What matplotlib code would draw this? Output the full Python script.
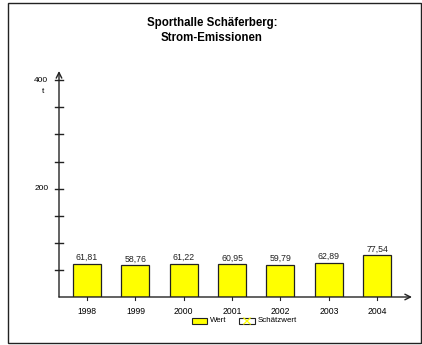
import matplotlib
matplotlib.use('Agg')
import matplotlib.pyplot as plt
from matplotlib.patches import Rectangle
import numpy as np

plt.rcParams['font.family'] = ['Liberation Sans', 'DejaVu Sans']

years = ['1998', '1999', '2000', '2001', '2002', '2003', '2004']
wert = [61.81, 58.76, 61.22, 60.95, 59.79, 62.89, 77.54]
value_labels = ['61,81', '58,76', '61,22', '60,95', '59,79', '62,89', '77,54']
y_major = [200, 400]
y_minor = [50, 100, 150, 250, 300, 350]

W, H = 422, 345
fig = plt.figure(figsize=(W / 100, H / 100), dpi=100)

# outer frame
fig.patches.append(Rectangle((8 / W, 2 / H), 413 / W, 340 / H, transform=fig.transFigure,
                             fill=False, edgecolor='#222222', linewidth=1.0))

ax = fig.add_axes([59 / W, 48 / H, 353 / W, 226 / H])
x = np.arange(len(years))
ax.bar(x, wert, width=0.58, color='#FFFF00', edgecolor='#222222', linewidth=0.9, zorder=3)
for xi, v, lab in zip(x, wert, value_labels):
    ax.text(xi, v + 3, lab, ha='center', va='bottom', fontsize=6.3, color='#222222')

ax.set_xlim(-0.58, 6.72)
ax.set_ylim(0, 417)
for s in ax.spines.values():
    s.set_visible(False)
ax.set_xticks([])
ax.set_yticks([])

# axes with arrows
ax.annotate('', xy=(0, 1), xytext=(0, 0), xycoords='axes fraction',
            arrowprops=dict(arrowstyle='->', color='#222222', lw=1.0, shrinkA=0, shrinkB=0))
ax.annotate('', xy=(1, 0), xytext=(0, 0), xycoords='axes fraction',
            arrowprops=dict(arrowstyle='->', color='#222222', lw=1.0, shrinkA=0, shrinkB=0))

# y ticks crossing the axis
trans_y = ax.get_yaxis_transform()
for v in y_major + y_minor:
    ax.plot([-0.011, 0.011], [v, v], transform=trans_y, color='#222222', lw=1.0, clip_on=False)
for v in y_major:
    ax.text(-0.03, v, str(v), transform=trans_y, ha='right', va='center', fontsize=6)
ax.text(-0.045, 380, 't', transform=trans_y, ha='center', va='center', fontsize=6)

# x ticks below the axis
trans_x = ax.get_xaxis_transform()
for xi, yr in zip(x, years):
    ax.plot([xi, xi], [0, -0.015], transform=trans_x, color='#222222', lw=0.8, clip_on=False)
    ax.text(xi, -0.045, yr, transform=trans_x, ha='center', va='top', fontsize=6.2)

fig.text(212 / W, 1 - 23 / H, 'Sporthalle Schäferberg:', ha='center', va='center',
         fontsize=8.3, fontweight='bold')
fig.text(212 / W, 1 - 38 / H, 'Strom-Emissionen', ha='center', va='center',
         fontsize=8.3, fontweight='bold')

# legend
ly = 1 - 321 / H
ph = 6 / H
fig.patches.append(Rectangle((192 / W, ly - ph / 2), 15 / W, ph, transform=fig.transFigure,
                             facecolor='#FFFF00', edgecolor='#222222', linewidth=0.8))
fig.text(210 / W, ly, 'Wert', ha='left', va='center', fontsize=5.7)
bx, bw = 239 / W, 16 / W
fig.patches.append(Rectangle((bx, ly - ph / 2), bw, ph, transform=fig.transFigure,
                             facecolor='white', edgecolor='#222222', linewidth=0.8, zorder=2))
fig.lines.append(plt.Line2D([bx + bw * 0.3, bx + bw * 0.7], [ly - ph / 2, ly + ph / 2],
                            transform=fig.transFigure, color='#FFFF00', lw=0.9, zorder=3))
fig.lines.append(plt.Line2D([bx + bw * 0.3, bx + bw * 0.7], [ly + ph / 2, ly - ph / 2],
                            transform=fig.transFigure, color='#FFFF00', lw=0.9, zorder=3))
fig.text(258 / W, ly, 'Schätzwert', ha='left', va='center', fontsize=5.7)

fig.savefig('out.png', dpi=100)
